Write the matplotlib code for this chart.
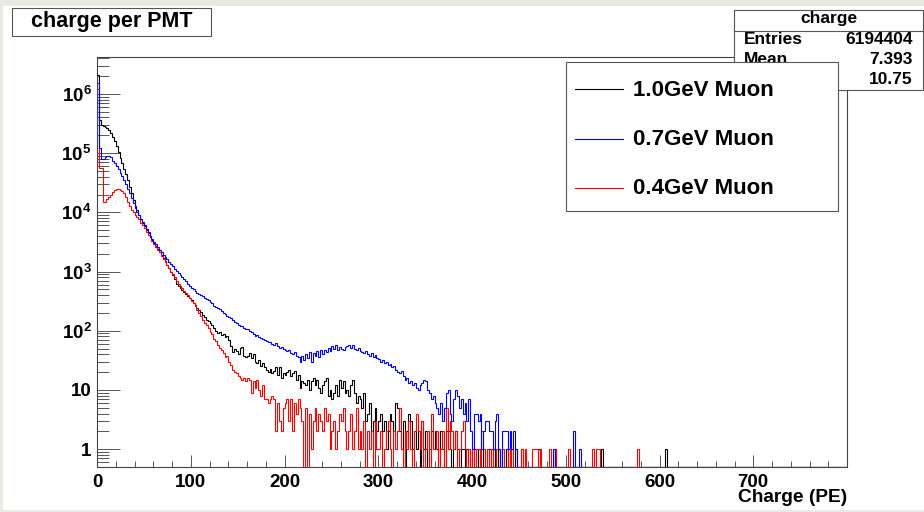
import numpy as np
import matplotlib
matplotlib.use("Agg")
import matplotlib.pyplot as plt
from matplotlib.ticker import FixedLocator, FixedFormatter, LogLocator, NullFormatter, MultipleLocator
from matplotlib.patches import Rectangle
from matplotlib.lines import Line2D

plt.rcParams['font.family'] = ['Liberation Sans', 'DejaVu Sans']
plt.rcParams['font.weight'] = 'bold'
plt.rcParams['mathtext.fontset'] = 'custom'
plt.rcParams['mathtext.rm'] = 'Liberation Sans:bold'
plt.rcParams['mathtext.bf'] = 'Liberation Sans:bold'

# histogram: 400 bins of 2 PE from 0 to 800, counts
bin_width = 2
n_bins = 400

black = [
    2.1e6, 3.6e5, 3.0e5, 2.9e5, 2.8e5, 2.7e5, 2.45e5, 2.2e5, 1.9e5, 1.6e5,   # 0-20
    1.3e5, 1.05e5, 8.4e4, 6.8e4, 5.4e4, 4.4e4, 3.5e4, 2.7e4, 2.1e4, 1.6e4,  # 20-40
    1.3e4, 1.1e4, 9.0e3, 7.8e3, 6.7e3, 5.8e3, 5.0e3, 4.4e3, 3.9e3, 3.4e3,   # 40-60
    3.0e3, 2.7e3, 2.4e3, 2.15e3, 1.9e3, 1.7e3, 1.5e3, 1.3e3, 1.15e3, 1.0e3, # 60-80
    860, 740, 620, 560, 530, 480, 450, 410, 390, 360,   # 80-100
    330, 300, 270, 240, 225, 210, 185, 170, 150, 145,   # 100-120
    135, 125, 112, 100, 92, 96, 85, 88, 78, 80,         # 120-140
    70, 55, 44, 50, 46, 40, 52, 54, 38, 36,             # 140-160
    38, 42, 34, 40, 30, 28, 32, 25, 28, 24,             # 160-180
    22, 20, 23, 19, 21, 24, 18, 24, 16, 19,             # 180-200
    18, 20, 22, 17, 19, 21, 15, 18, 11, 14,             # 200-220
    13, 12, 15, 10, 14, 16, 12, 15, 11, 9,              # 220-240
    12, 14, 16, 8, 10, 7, 9, 12, 8, 15,                 # 240-260
    11, 14, 9, 10, 8, 12, 15, 9, 6, 8,                  # 260-280
    7, 5, 9, 3, 4, 6, 2, 3, 5, 2,                       # 280-300
    3, 4, 2, 3, 1, 2, 4, 3, 2, 6,                       # 300-320
    5, 2, 1, 3, 0, 2, 4, 3, 1, 2,                       # 320-340
    1, 2, 0, 3, 1, 2, 0, 1, 2, 1,                       # 340-360
    2, 1, 0, 2, 1, 0, 2, 2, 1, 0,                       # 360-380
    1, 2, 1, 0, 1, 1, 0, 1, 1, 0,                       # 380-400
    1, 1, 0, 1, 0, 0, 1, 0, 0, 1,                       # 400-420
    0, 1, 0, 0, 1, 0, 0, 0, 1, 0,                       # 420-440
    0, 0, 0, 1, 0, 0, 1, 0, 0, 0,                       # 440-460
    0, 0, 0, 0, 0, 1, 0, 0, 0, 0,                       # 460-480
    0, 0, 0, 0, 1, 0, 0, 0, 0, 0,                       # 480-500
    0, 0, 0, 0, 0, 0, 0, 0, 0, 0,                       # 500-520
    0, 0, 0, 0, 0, 0, 0, 0, 0, 1,                       # 520-540
    0, 0, 0, 0, 0, 0, 0, 0, 0, 0,                       # 540-560
    0, 0, 0, 0, 0, 0, 0, 0, 0, 0,                       # 560-580
    0, 0, 0, 0, 0, 0, 0, 0, 0, 0,                       # 580-600
    0, 0, 0, 1, 0, 0, 0, 0, 0, 0,                       # 600-620
]

blue = [
    1.5e6, 1.2e5, 8.0e4, 7.9e4, 8.6e4, 9.0e4, 9.0e4, 8.6e4, 7.5e4, 6.8e4,   # 0-20
    6.1e4, 5.4e4, 4.7e4, 4.1e4, 3.5e4, 3.0e4, 2.5e4, 2.1e4, 1.75e4, 1.45e4, # 20-40
    1.2e4, 1.02e4, 8.9e3, 7.7e3, 6.8e3, 6.0e3, 5.2e3, 4.6e3, 4.0e3, 3.6e3,  # 40-60
    3.2e3, 2.9e3, 2.6e3, 2.35e3, 2.1e3, 1.9e3, 1.75e3, 1.6e3, 1.45e3, 1.33e3,  # 60-80
    1.22e3, 1.12e3, 1.03e3, 950, 870, 800, 740, 680, 620, 570,   # 80-100
    530, 500, 470, 440, 420, 400, 380, 360, 345, 330,   # 100-120
    310, 290, 260, 250, 245, 235, 215, 200, 190, 180,   # 120-140
    170, 165, 150, 140, 135, 125, 120, 118, 112, 108,   # 140-160
    105, 98, 95, 88, 82, 85, 78, 76, 72, 70,            # 160-180
    68, 64, 65, 60, 58, 62, 55, 52, 54, 50,             # 180-200
    48, 45, 47, 42, 40, 44, 38, 36, 30, 37,             # 200-220
    32, 40, 35, 44, 30, 42, 38, 45, 36, 47,             # 220-240
    40, 48, 44, 52, 46, 55, 50, 57, 48, 54,             # 240-260
    50, 47, 53, 56, 58, 52, 57, 50, 48, 52,             # 260-280
    46, 44, 42, 45, 40, 38, 42, 36, 39, 35,             # 280-300
    33, 30, 32, 28, 30, 26, 27, 24, 25, 22,             # 300-320
    20, 19, 21, 17, 15, 16, 13, 14, 12, 13,             # 320-340
    11, 10, 12, 13, 15, 14, 10, 9, 7, 8,                # 340-360
    6, 5, 4, 6, 3, 5, 9, 10, 4, 3,                      # 360-380
    7, 10, 8, 5, 7, 4, 6, 3, 7, 2,                      # 380-400
    1, 4, 4, 3, 4, 1, 2, 3, 3, 2,                       # 400-420
    2, 1, 3, 4, 1, 0, 2, 2, 2, 1,                       # 420-440
    2, 1, 2, 1, 0, 0, 0, 0, 0, 0,                       # 440-460
    0, 0, 0, 0, 0, 0, 0, 0, 0, 0,                       # 460-480
    0, 0, 0, 1, 0, 0, 0, 0, 0, 0,                       # 480-500
    0, 0, 0, 0, 2, 0, 0, 1, 0, 0,                       # 500-520
]

red = [
    1.2e6, 5.6e4, 5.6e4, 1.5e4, 1.5e4, 1.65e4, 1.8e4, 2.0e4, 2.2e4, 2.35e4,  # 0-20
    2.45e4, 2.45e4, 2.4e4, 2.3e4, 2.1e4, 1.8e4, 1.5e4, 1.3e4, 1.1e4, 1.0e4,  # 20-40
    9.0e3, 8.2e3, 7.6e3, 6.7e3, 6.0e3, 5.4e3, 4.7e3, 4.2e3, 3.8e3, 3.3e3,    # 40-60
    2.9e3, 2.6e3, 2.35e3, 2.1e3, 1.85e3, 1.65e3, 1.45e3, 1.3e3, 1.15e3, 1.0e3,  # 60-80
    900, 800, 700, 620, 560, 520, 470, 440, 400, 360,   # 80-100
    320, 290, 260, 225, 200, 175, 150, 135, 125, 110,   # 100-120
    95, 88, 72, 68, 58, 52, 48, 42, 36, 38,             # 120-140
    30, 26, 22, 20, 19, 17, 16, 15, 16, 14,             # 140-160
    16, 15, 9, 14, 11, 15, 10, 8, 12, 7,                # 160-180
    7, 6, 7, 8, 7, 2, 6, 3, 2, 5,                       # 180-200
    6, 7, 3, 7, 2, 6, 4, 7, 5, 3,                       # 200-220
    0, 5, 0, 4, 1, 3, 5, 2, 4, 3,                       # 220-240
    2, 5, 3, 4, 1, 2, 3, 1, 2, 4,                       # 240-260
    3, 5, 2, 1, 2, 4, 1, 2, 5, 1,                       # 260-280
    2, 1, 3, 0, 2, 1, 2, 0, 3, 1,                       # 280-300
    1, 2, 0, 1, 2, 3, 1, 0, 2, 1,                       # 300-320
    2, 5, 1, 0, 2, 1, 3, 1, 0, 2,                       # 320-340
    4, 2, 1, 3, 0, 1, 2, 0, 4, 1,                       # 340-360
    1, 2, 0, 1, 2, 0, 5, 1, 3, 2,                       # 360-380
    1, 2, 0, 1, 2, 3, 1, 0, 1, 0,                       # 380-400
    1, 0, 1, 1, 0, 2, 1, 0, 1, 0,                       # 400-420
    1, 0, 0, 1, 1, 0, 1, 0, 0, 1,                       # 420-440
    0, 1, 0, 0, 0, 0, 1, 0, 1, 0,                       # 440-460
    0, 0, 1, 1, 1, 0, 1, 0, 0, 0,                       # 460-480
    0, 1, 0, 0, 1, 0, 0, 0, 0, 0,                       # 480-500
    0, 1, 0, 0, 0, 0, 0, 0, 0, 0,                       # 500-520
    0, 0, 0, 0, 1, 0, 1, 1, 0, 0,                       # 520-540
    0, 0, 0, 0, 0, 0, 0, 0, 0, 0,                       # 540-560
    0, 0, 0, 0, 0, 0, 0, 0, 1, 0,                       # 560-580
]

labels = ['1.0GeV Muon', '0.7GeV Muon', '0.4GeV Muon']
colors = ['black', '#0000ff', '#ff0000']
stats_title = 'charge'
stats_rows = [('Entries', '6194404'), ('Mean', '7.393'), ('RMS', '10.75')]
title = 'charge per PMT'
xlabel = 'Charge (PE)'

W, H = 924, 512
ymin, ymax = 0.5, 4.2e6


def fx(x):
    return x / W


def fy(y):
    return 1 - y / H


def full(counts):
    c = np.concatenate([np.array(counts, float), np.zeros(n_bins - len(counts))])
    # ROOT draws empty bins at the bottom of a log axis
    return np.where(c > 0, c, ymin)


edges = np.arange(n_bins + 1) * bin_width

fig = plt.figure(figsize=(W / 100, H / 100), dpi=100, facecolor='#ebe9e4')
fig.add_artist(Rectangle((fx(3), fy(510)), 1, (510 - 6) / H, transform=fig.transFigure,
                         facecolor='white', edgecolor='none', zorder=-10))

ax = fig.add_axes([fx(97), fy(467), 750 / W, 410 / H])
ax.set_facecolor('white')

# drawing order: black first, blue on top
for counts, col in [(black, colors[0]), (red, colors[2]), (blue, colors[1])]:
    ax.stairs(full(counts), edges, baseline=None, color=col, lw=0.8, zorder=3)

ax.set_yscale('log')
ax.set_xlim(0, 800)
ax.set_ylim(ymin, ymax)

ax.xaxis.set_major_locator(FixedLocator([0, 100, 200, 300, 400, 500, 600, 700]))
ax.xaxis.set_minor_locator(MultipleLocator(20))
ylocs = [1, 10, 1e2, 1e3, 1e4, 1e5, 1e6]
ylabs = ['1', '10'] + [r'$\mathbf{10^{%d}}$' % k for k in range(2, 7)]
ax.yaxis.set_major_locator(FixedLocator(ylocs))
ax.yaxis.set_major_formatter(FixedFormatter(ylabs))
ax.yaxis.set_minor_locator(LogLocator(base=10, subs=np.arange(2, 10), numticks=20))
ax.yaxis.set_minor_formatter(NullFormatter())

tick_col = '#555555'
ax.tick_params(axis='x', which='major', direction='in', length=8.6, width=0.7,
               color=tick_col, labelsize=13.5, pad=5)
ax.tick_params(axis='x', which='minor', direction='in', length=4.3, width=0.7, color=tick_col)
ax.tick_params(axis='y', which='major', direction='in', length=16.5, width=0.7,
               color=tick_col, labelsize=13.5, pad=4)
ax.tick_params(axis='y', which='minor', direction='in', length=8.6, width=0.7, color=tick_col)
for lab in ax.get_xticklabels() + ax.get_yticklabels():
    lab.set_fontweight('bold')
for sp in ax.spines.values():
    sp.set_color('#444444')
    sp.set_linewidth(0.8)

fig.text(fx(847), fy(498), xlabel, ha='right', va='center', fontsize=13.8, fontweight='bold')

# title box
fig.add_artist(Rectangle((fx(12), fy(36)), 199 / W, 28 / H, transform=fig.transFigure,
                         facecolor='white', edgecolor='#555555', lw=0.8, zorder=5))
fig.text(fx(112), fy(22), title, ha='center', va='center', fontsize=15.5,
         fontweight='bold', zorder=6)

# stats box
fig.add_artist(Rectangle((fx(734), fy(90)), 189 / W, 80 / H, transform=fig.transFigure,
                         facecolor='white', edgecolor='#555555', lw=0.8, zorder=5))
fig.add_artist(Line2D([fx(734), fx(923)], [fy(31), fy(31)], transform=fig.transFigure,
                      color='#555555', lw=0.8, zorder=6))
fig.text(fx(829), fy(19), stats_title, ha='center', va='center', fontsize=12.5,
         fontweight='bold', zorder=6)
for i, (k, v) in enumerate(stats_rows):
    y = 40 + 20 * i
    fig.text(fx(744), fy(y), k, ha='left', va='center', fontsize=12.5, fontweight='bold', zorder=6)
    fig.text(fx(913), fy(y), v, ha='right', va='center', fontsize=12.5, fontweight='bold', zorder=6)

# legend box on top of the stats box
fig.add_artist(Rectangle((fx(566), fy(211)), 272 / W, 149 / H, transform=fig.transFigure,
                         facecolor='white', edgecolor='#555555', lw=0.8, zorder=8))
for i, (lab, col) in enumerate(zip(labels, colors)):
    y = 89 + 49.5 * i
    fig.add_artist(Line2D([fx(575), fx(623)], [fy(y), fy(y)], transform=fig.transFigure,
                          color=col, lw=0.8, zorder=9))
    fig.text(fx(633), fy(y + 1), lab, ha='left', va='center', fontsize=16,
             fontweight='bold', zorder=9)

fig.savefig('out.png', dpi=100, facecolor=fig.get_facecolor())
